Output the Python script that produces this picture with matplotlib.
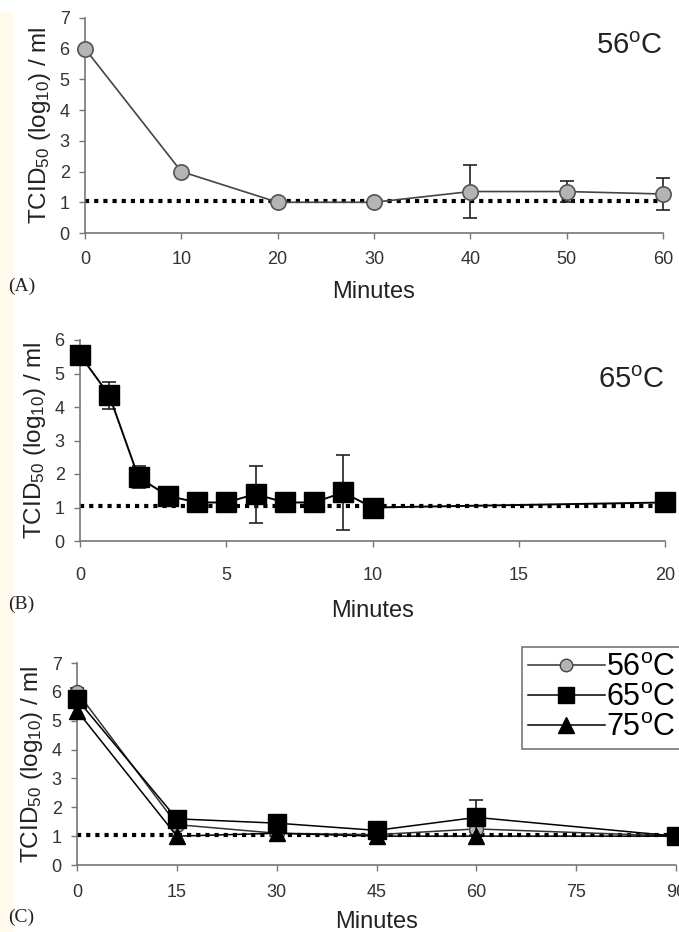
import numpy as np
import matplotlib
matplotlib.use("Agg")
import matplotlib.pyplot as plt
from matplotlib.patches import Rectangle
from matplotlib.lines import Line2D

plt.rcParams["font.family"] = ["Liberation Sans", "DejaVu Sans"]
plt.rcParams["mathtext.fontset"] = "custom"
plt.rcParams["mathtext.rm"] = "Liberation Sans"
plt.rcParams["mathtext.it"] = "Liberation Sans"

# Panel A: 56 C
a_min = [0, 10, 20, 30, 40, 50, 60]
a_val = [6.0, 2.0, 1.0, 1.0, 1.35, 1.35, 1.27]
a_err = [0, 0, 0, 0, 0.85, 0.35, 0.52]

# Panel B: 65 C
b_min = [0, 1, 2, 3, 4, 5, 6, 7, 8, 9, 10, 20]
b_val = [5.55, 4.35, 1.9, 1.35, 1.15, 1.15, 1.4, 1.15, 1.15, 1.45, 1.0, 1.15]
b_err = [0, 0.4, 0.33, 0, 0, 0, 0.85, 0, 0, 1.12, 0, 0]

# Panel C: 56 / 65 / 75 C
c_min = [0, 15, 30, 45, 60, 90]
c56 = [6.0, 1.4, 1.1, 1.05, 1.25, 1.0]
c56_err = [0.15, 0, 0, 0, 0.1, 0]
c65 = [5.75, 1.6, 1.45, 1.2, 1.65, 1.0]
c65_err = [0.1, 0, 0, 0, 0.6, 0]
c75 = [5.35, 1.0, 1.1, 1.0, 1.0, 1.0]

detect_limit = 1.05
ylab = r"TCID$_{\rm 50}$ (log$_{\rm 10}$) / ml"

fig = plt.figure(figsize=(6.79, 9.32), dpi=100)
fig.patches.append(Rectangle((0, 0), 13 / 679, 1 - 12 / 932, transform=fig.transFigure,
                             facecolor="#fffaeb", edgecolor="none", zorder=0))


def style(ax, xmax, xticks, ymax, tpad, lpad):
    ax.set_xlim(0, xmax)
    ax.set_ylim(0, ymax)
    ax.set_xticks(xticks)
    ax.set_yticks(range(0, ymax + 1))
    for s in ["top", "right"]:
        ax.spines[s].set_visible(False)
    for s in ["left", "bottom"]:
        ax.spines[s].set_color("#777777")
        ax.spines[s].set_linewidth(1.2)
    ax.tick_params(direction="out", length=4, width=1, color="#777777",
                   labelsize=13, labelcolor="#333333", pad=7)
    ax.tick_params(axis="x", pad=tpad)
    ax.set_ylabel(ylab, fontsize=17.5, color="#222222", labelpad=5)
    ax.set_xlabel("Minutes", fontsize=17, color="#222222", labelpad=lpad)
    ax.patch.set_alpha(0)


def noclip(cont):
    for art in cont.get_children():
        art.set_clip_on(False)


ekw = dict(ecolor="#222222", elinewidth=1.2, capsize=5, capthick=1.2)

# (A)
ax1 = fig.add_axes([85 / 679, 1 - 233 / 932, 578 / 679, 215 / 932])
style(ax1, 60, range(0, 61, 10), 7, 9, 9)
ax1.plot([0, 60], [detect_limit] * 2, color="black", lw=3, ls=(0, (1, 1.2)), zorder=2)
noclip(ax1.errorbar(a_min, a_val, yerr=a_err, fmt="-o", color="#444444", lw=1.2,
                    ms=11, mfc="#b4b4b4", mec="#555555", mew=1.2, zorder=3, **ekw))
ax1.text(1.0, 0.87, r"56$^{\rm o}$C", transform=ax1.transAxes, ha="right",
         va="center", fontsize=21, color="#222222")
fig.text(8 / 679, 1 - 286 / 932, "(A)", family="Liberation Serif", fontsize=14,
         va="center", color="#222222")

# (B)
ax2 = fig.add_axes([80 / 679, 1 - 541 / 932, 585 / 679, 201 / 932])
style(ax2, 20, range(0, 21, 5), 6, 15, 11)
ax2.plot([0, 20], [detect_limit] * 2, color="black", lw=3, ls=(0, (1, 1.2)), zorder=2)
noclip(ax2.errorbar(b_min, b_val, yerr=b_err, fmt="-s", color="black", lw=1.4,
                    ms=14, mfc="black", mec="black", zorder=3, **ekw))
ax2.text(1.0, 0.80, r"65$^{\rm o}$C", transform=ax2.transAxes, ha="right",
         va="center", fontsize=21, color="#222222")
fig.text(8 / 679, 1 - 604 / 932, "(B)", family="Liberation Serif", fontsize=14,
         va="center", color="#222222")

# (C)
ax3 = fig.add_axes([77 / 679, 1 - 865 / 932, 599 / 679, 202 / 932])
style(ax3, 90, range(0, 91, 15), 7, 10, 7)
ax3.plot([0, 90], [detect_limit] * 2, color="black", lw=3, ls=(0, (1, 1.2)), zorder=2)
noclip(ax3.errorbar(c_min, c56, yerr=c56_err, fmt="-o", color="#333333", lw=1.1,
                    ms=10, mfc="#b4b4b4", mec="#444444", zorder=3, **ekw))
noclip(ax3.errorbar(c_min, c65, yerr=c65_err, fmt="-s", color="black", lw=1.1,
                    ms=13, mfc="black", mec="black", zorder=4, **ekw))
ax3.plot(c_min, c75, "-^", color="black", lw=1.1, ms=12, zorder=5, clip_on=False)

handles = [
    Line2D([], [], color="#333333", lw=1.1, marker="o", ms=9, mfc="#b4b4b4", mec="#444444"),
    Line2D([], [], color="black", lw=1.1, marker="s", ms=11, mfc="black", mec="black"),
    Line2D([], [], color="black", lw=1.1, marker="^", ms=11),
]
labels = [r"56$^{\rm o}$C", r"65$^{\rm o}$C", r"75$^{\rm o}$C"]
leg = ax3.legend(handles, labels, loc="upper left", bbox_to_anchor=(522 / 679, 1 - 647 / 932),
                 bbox_transform=fig.transFigure, fontsize=22, frameon=True,
                 fancybox=False, handlelength=2.5, handletextpad=0.05,
                 borderpad=0.2, labelspacing=0.0, borderaxespad=0)
leg.get_frame().set_edgecolor("#555555")
leg.get_frame().set_linewidth(1.2)
fig.text(8 / 679, 1 - 917 / 932, "(C)", family="Liberation Serif", fontsize=14,
         va="center", color="#222222")

fig.savefig("out.png", dpi=100)
